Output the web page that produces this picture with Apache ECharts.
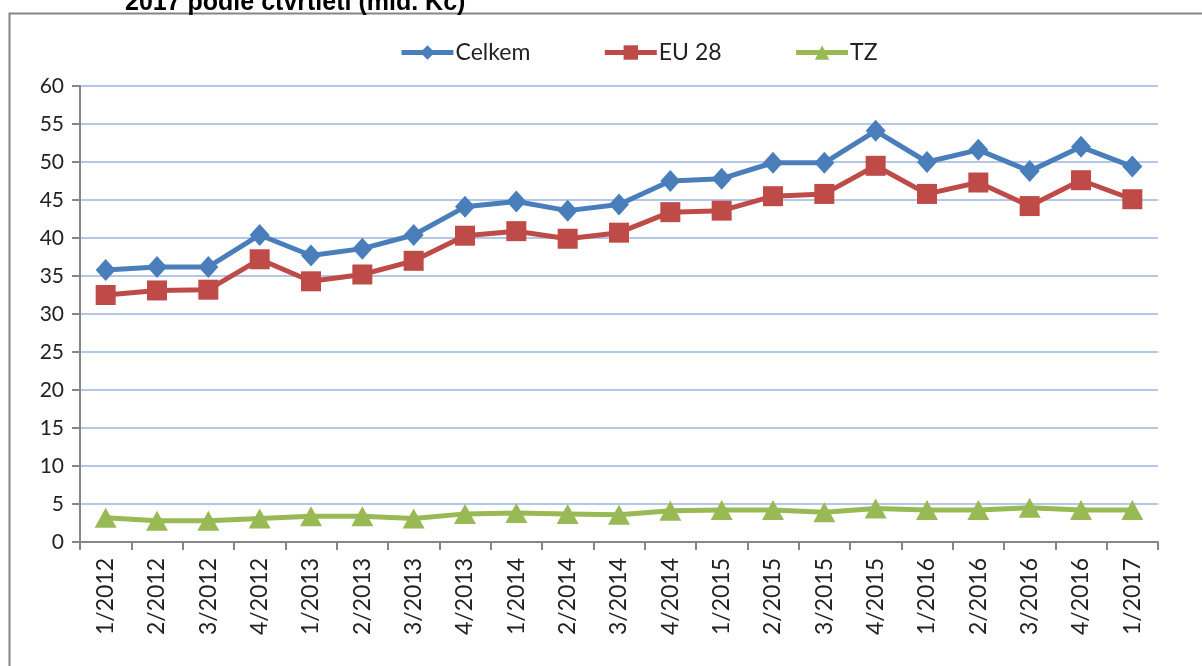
<!DOCTYPE html>
<html><head><meta charset="utf-8">
<script src="https://cdn.jsdelivr.net/npm/echarts@6/dist/echarts.min.js"></script>
<style>html,body{margin:0;padding:0;background:#fff}#c{width:1202px;height:666px}</style>
</head><body><div id="c"></div>
<script>
const categories = ['1/2012','2/2012','3/2012','4/2012','1/2013','2/2013','3/2013','4/2013','1/2014','2/2014','3/2014','4/2014','1/2015','2/2015','3/2015','4/2015','1/2016','2/2016','3/2016','4/2016','1/2017'];
const celkem = [35.8,36.2,36.2,40.4,37.7,38.6,40.4,44.1,44.8,43.6,44.4,47.5,47.8,49.9,49.9,54.1,50.0,51.6,48.8,52.0,49.4];
const eu28 = [32.5,33.1,33.2,37.2,34.3,35.2,37.0,40.3,40.9,39.9,40.7,43.4,43.6,45.5,45.8,49.5,45.8,47.3,44.2,47.6,45.1];
const tz = [3.2,2.8,2.8,3.1,3.4,3.4,3.1,3.7,3.8,3.7,3.6,4.1,4.2,4.2,3.9,4.4,4.2,4.2,4.5,4.2,4.2];
const yTicks = {min:0, max:60, interval:5};
const titleText = 'Vývoz zboží do zemí EU 28 a TZ za období 1. čtvrtletí 2012 až 1. čtvrtletí\n2017 podle čtvrtletí (mld. Kč)';

const font = 'Lato, "Open Sans", sans-serif';
const chart = echarts.init(document.getElementById('c'));
chart.setOption({
  animation:false,
  title:{text:titleText,left:120,top:-47,textStyle:{fontFamily:'"Liberation Sans", Arial, sans-serif',fontWeight:'bold',fontSize:25,color:'#000',lineHeight:30}},
  graphic:[{type:'rect',shape:{x:9.5,y:13.5,width:1210,height:700},style:{fill:null,stroke:'#868686',lineWidth:2},z:-1}],
  legend:{top:36,left:394,itemWidth:52,itemHeight:18,itemGap:72,
    lineStyle:{width:5},
    textStyle:{fontFamily:font,fontSize:23,color:'#222',padding:[0,0,0,-3]},
    data:['Celkem','EU 28','TZ']},
  grid:{left:80,right:44,top:86,bottom:124,containLabel:false},
  xAxis:{type:'category',data:categories,boundaryGap:true,
    axisLine:{lineStyle:{color:'#868686',width:2}},
    axisTick:{show:true,alignWithLabel:false,length:8,lineStyle:{color:'#868686',width:2}},
    axisLabel:{rotate:90,fontFamily:font,fontSize:23,color:'#222',margin:16,interval:0}},
  yAxis:{type:'value',min:yTicks.min,max:yTicks.max,interval:yTicks.interval,
    axisLine:{show:true,lineStyle:{color:'#868686',width:2}},
    axisTick:{show:true,length:8,lineStyle:{color:'#868686',width:2}},
    splitLine:{lineStyle:{color:'#b4c7e7',width:2}},
    axisLabel:{fontFamily:font,fontSize:21,color:'#222',margin:16}},
  series:[
    {name:'Celkem',type:'line',data:celkem,symbol:'diamond',symbolSize:[20,22],
      lineStyle:{color:'#4a7ebb',width:5},itemStyle:{color:'#4a7ebb'}},
    {name:'EU 28',type:'line',data:eu28,symbol:'rect',symbolSize:20,
      lineStyle:{color:'#be4b48',width:5},itemStyle:{color:'#be4b48'}},
    {name:'TZ',type:'line',data:tz,symbol:'triangle',symbolSize:[22,20],
      lineStyle:{color:'#98b954',width:5},itemStyle:{color:'#98b954'}}
  ]
});
</script></body></html>
